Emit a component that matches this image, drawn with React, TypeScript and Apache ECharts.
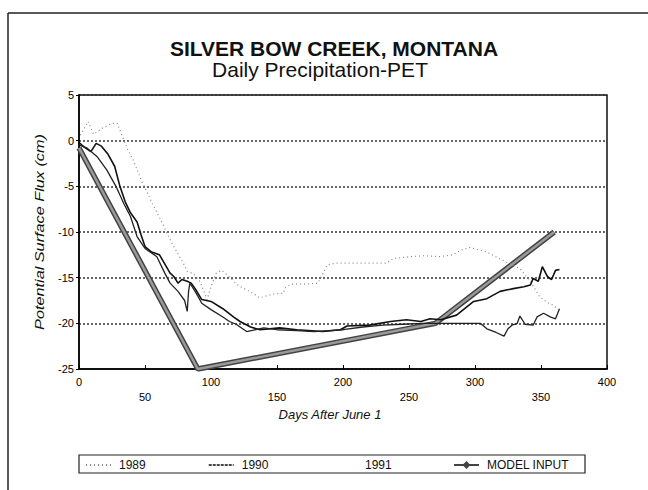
import React, { useEffect, useRef } from "react";
import * as echarts from "echarts";

const xTicks = [0, 50, 100, 150, 200, 250, 300, 350, 400];
const yTicks = [5, 0, -5, -10, -15, -20, -25];

const days1989 = [1, 7, 11, 18, 25, 29, 33, 37, 41, 48, 55, 63, 71, 79, 82, 87, 92, 97, 100, 104, 108, 113, 118, 121, 128, 137, 147, 155, 156, 161, 172, 181, 185, 188, 195, 208, 233, 238, 251, 261, 273, 283, 289, 296, 309, 321, 334, 342, 349, 356, 359, 363];
const flux1989 = [0.6, 2.1, 0.7, 1.4, 1.9, 1.9, 0.4, -1, -2.1, -4.6, -6.7, -9, -11.4, -13.4, -14.3, -14.6, -15.5, -17.4, -16, -14.5, -14.2, -14.8, -15.5, -15.9, -16.4, -17.2, -16.8, -16.7, -16.1, -15.7, -15.7, -15.6, -14.5, -13.6, -13.4, -13.4, -13.4, -12.9, -12.7, -12.6, -12.7, -12.5, -12, -11.7, -12.2, -13.1, -14, -15.4, -17.1, -17.8, -18, -18.5];

const days1990 = [0, 4, 9, 13, 17, 22, 27, 31, 35, 39, 44, 47, 50, 55, 61, 69, 72, 75, 78, 82, 85, 88, 93, 100, 109, 117, 122, 130, 137, 152, 165, 185, 198, 203, 220, 236, 248, 259, 266, 274, 286, 299, 309, 319, 329, 337, 342, 344, 348, 351, 355, 358, 361, 364];
const flux1990 = [-0.2, -0.7, -1.2, -0.3, -0.6, -1.5, -2.8, -5, -6.7, -7.9, -8.9, -10.3, -11.6, -12.2, -12.5, -14.5, -14.9, -15.6, -15.2, -15.4, -15.6, -16.2, -17.4, -17.6, -18.4, -19.3, -19.8, -20.4, -20.7, -20.5, -20.7, -20.9, -20.7, -20.3, -20.2, -19.8, -19.6, -19.8, -19.5, -19.6, -19.1, -17.6, -17.3, -16.5, -16.2, -16, -15.8, -15.1, -15.4, -13.8, -14.9, -15.2, -14.2, -14.1];

const days1991 = [0, 6, 14, 21, 28, 34, 39, 44, 50, 59, 65, 69, 75, 80, 82, 83, 84, 88, 93, 100, 109, 114, 119, 127, 140, 150, 165, 178, 200, 215, 230, 245, 260, 273, 290, 304, 309, 316, 322, 325, 328, 332, 334, 338, 344, 347, 352, 357, 361, 364];
const flux1991 = [-0.5, -0.8, -1.8, -3.2, -5, -6.9, -8.3, -10.5, -11.8, -12.7, -14.5, -15.6, -16.5, -17.5, -18.7, -16.5, -15.6, -16.5, -17.8, -18.5, -19.3, -19.8, -20.1, -20.9, -20.5, -20.7, -20.8, -20.9, -20.7, -20.4, -20.2, -20.1, -20, -20, -20, -20, -20.6, -21, -21.4, -20.6, -20.2, -20, -19.2, -20.1, -20.2, -19.3, -18.9, -19.3, -19.5, -18.4];

const daysModel = [0, 90, 270, 360];
const fluxModel = [-0.8, -25, -20, -10];

const zip = (xs: number[], ys: number[]) => xs.map((x, i) => [x, ys[i]]);

const FONT = '"Liberation Sans", Arial, sans-serif';

export default function App() {
  const ref = useRef<HTMLDivElement>(null);
  useEffect(() => {
    if (!ref.current) return;
    const chart = echarts.init(ref.current, null, { renderer: "svg" });
    const legendBase = {
      orient: "horizontal",
      top: 459,
      padding: 0,
      itemWidth: 25,
      itemHeight: 10,
      itemGap: 0,
      textStyle: { fontFamily: FONT, fontSize: 12, color: "#111", padding: [0, 0, 0, 3] },
      selectedMode: false,
    };
    const isOdd = (v: number) => Math.round(v / 50) % 2 === 1;
    const option: any = {
      animation: false,
      backgroundColor: "#fff",
      grid: {
        left: 79,
        right: 41,
        top: 95,
        bottom: 121,
        show: true,
        borderColor: "#111",
        borderWidth: 1.5,
      },
      xAxis: {
        type: "value",
        min: xTicks[0],
        max: xTicks[xTicks.length - 1],
        interval: 50,
        splitLine: { show: false },
        axisLine: { show: true, onZero: false, lineStyle: { color: "#000", width: 1.5 } },
        axisTick: { show: true, inside: true, length: 4, lineStyle: { color: "#000" } },
        axisLabel: {
          margin: 7,
          color: "#000",
          fontFamily: FONT,
          fontSize: 11,
          rich: {
            e: { fontFamily: FONT, fontSize: 11, color: "#000" },
            o: { fontFamily: FONT, fontSize: 11, color: "#000", padding: [15, 0, 0, 0] },
          },
          formatter: (v: number) => (isOdd(v) ? `{o|${v}}` : `{e|${v}}`),
        },
      },
      yAxis: {
        type: "value",
        min: yTicks[yTicks.length - 1],
        max: yTicks[0],
        interval: 5,
        axisLine: { show: true, onZero: false, lineStyle: { color: "#000", width: 1.5 } },
        axisTick: { show: true, inside: false, length: 3, lineStyle: { color: "#000" } },
        splitLine: { show: true, lineStyle: { color: "#333", type: [2, 2], width: 1.5 } },
        axisLabel: { fontFamily: FONT, fontSize: 11, color: "#000", margin: 5 },
      },
      legend: [
        { ...legendBase, left: 85, data: ["1989"], itemStyle: { opacity: 0 } },
        { ...legendBase, left: 208, data: ["1990"], lineStyle: { type: [3, 1], width: 1.5 }, itemStyle: { opacity: 0 } },
        { ...legendBase, left: 331, data: ["1991"], lineStyle: { opacity: 0 }, itemStyle: { opacity: 0 } },
        { ...legendBase, left: 453, data: ["MODEL INPUT"] },
      ],
      graphic: [
        { type: "line", shape: { x1: 8, y1: 13, x2: 648, y2: 13 }, style: { stroke: "#222", lineWidth: 1.5 } },
        { type: "line", shape: { x1: 8, y1: 13, x2: 8, y2: 490 }, style: { stroke: "#222", lineWidth: 1.5 } },
        { type: "rect", shape: { x: 79, y: 455, width: 506, height: 18 }, style: { fill: "none", stroke: "#222", lineWidth: 1.2 } },
        {
          type: "text", x: 334, y: 48,
          style: { text: "SILVER BOW CREEK, MONTANA", font: `bold 21px ${FONT}`, fill: "#111", textAlign: "center", textVerticalAlign: "middle" },
        },
        {
          type: "text", x: 320, y: 69,
          style: { text: "Daily Precipitation-PET", font: `21px ${FONT}`, fill: "#111", textAlign: "center", textVerticalAlign: "middle" },
        },
        {
          type: "text", x: 40, y: 232, rotation: Math.PI / 2, scaleX: 1.25,
          style: { text: "Potential Surface Flux (cm)", font: `italic 13px ${FONT}`, fill: "#111", textAlign: "center", textVerticalAlign: "middle" },
        },
        {
          type: "text", x: 330, y: 414,
          style: { text: "Days After June 1", font: `italic 13px ${FONT}`, fill: "#111", textAlign: "center", textVerticalAlign: "middle" },
        },
      ],
      series: [
        {
          name: "MODEL INPUT",
          type: "line",
          data: zip(daysModel, fluxModel),
          showSymbol: false,
          symbol: "diamond",
          symbolSize: 8,
          itemStyle: { color: "#444" },
          lineStyle: { color: "#444", width: 5.5 },
          z: 2,
        },
        {
          name: "model-inner",
          type: "line",
          data: zip(daysModel, fluxModel),
          symbol: "none",
          lineStyle: { color: "#9a9a9a", width: 2.5 },
          z: 3,
        },
        {
          name: "1989",
          type: "line",
          data: zip(days1989, flux1989),
          symbol: "none",
          itemStyle: { color: "#888" },
          lineStyle: { color: "#888", width: 1.2, type: [1, 3] },
          z: 4,
        },
        {
          name: "1990",
          type: "line",
          data: zip(days1990, flux1990),
          symbol: "none",
          itemStyle: { color: "#111" },
          lineStyle: { color: "#111", width: 1.6 },
          z: 5,
        },
        {
          name: "1991",
          type: "line",
          data: zip(days1991, flux1991),
          symbol: "none",
          itemStyle: { color: "#222" },
          lineStyle: { color: "#222", width: 1.3 },
          z: 5,
        },
      ],
    };
    chart.setOption(option);
    return () => chart.dispose();
  }, []);
  return (
    <div
      ref={ref}
      style={{ position: "fixed", left: 0, top: 0, width: 648, height: 490, background: "#fff" }}
    />
  );
}
